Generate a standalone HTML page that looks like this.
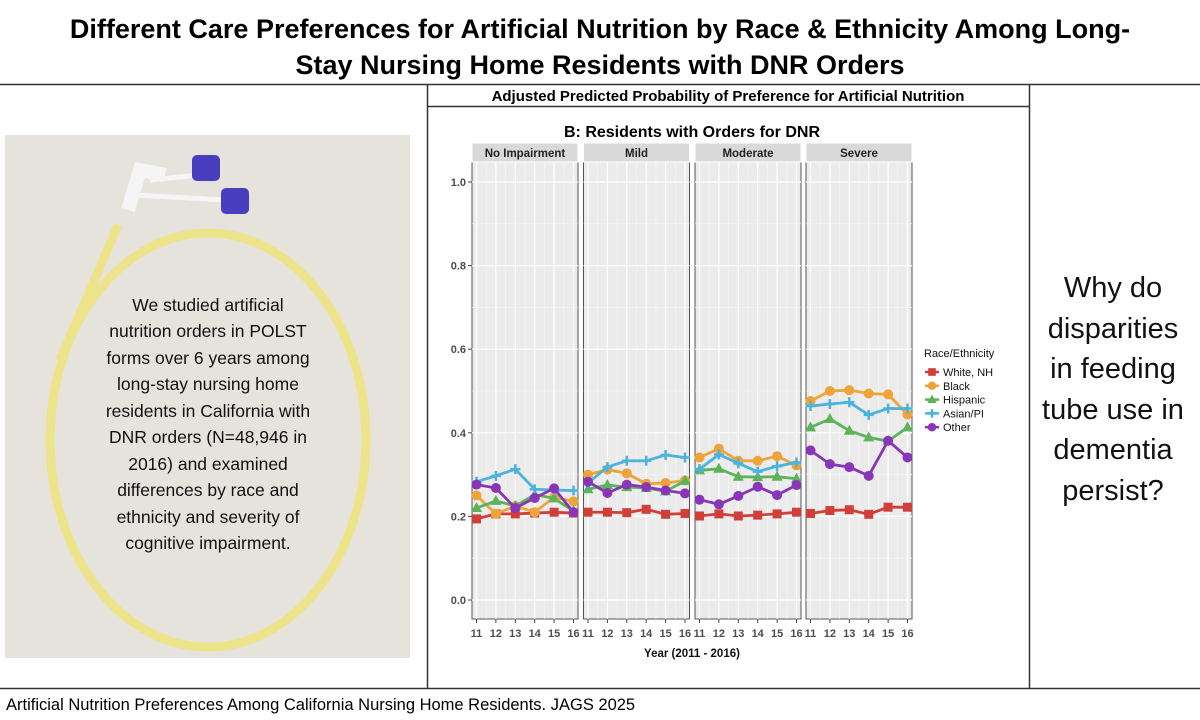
<!DOCTYPE html>
<html><head><meta charset="utf-8"><style>
body{margin:0;width:1200px;height:720px;background:#fff;overflow:hidden;font-family:"Liberation Sans",sans-serif;}
svg{display:block}
</style></head><body>
<svg id="svg" width="1200" height="720" xmlns="http://www.w3.org/2000/svg">
<rect x="0" y="0" width="1200" height="720" fill="#fff"/>
<g font-weight="bold" font-size="27" text-anchor="middle" fill="#000">
<text x="600" y="38">Different Care Preferences for Artificial Nutrition by Race &amp; Ethnicity Among Long-</text>
<text x="600" y="74">Stay Nursing Home Residents with DNR Orders</text>
</g>
<line x1="0" y1="84.5" x2="1200" y2="84.5" stroke="#333" stroke-width="1.5"/>
<line x1="0" y1="688.5" x2="1200" y2="688.5" stroke="#333" stroke-width="1.5"/>
<line x1="427.5" y1="84" x2="427.5" y2="688" stroke="#333" stroke-width="1.5"/>
<line x1="1029.5" y1="84" x2="1029.5" y2="688" stroke="#333" stroke-width="1.5"/>
<line x1="427" y1="106.5" x2="1029" y2="106.5" stroke="#333" stroke-width="1.5"/>
<text x="728" y="101" text-anchor="middle" font-size="15" font-weight="bold">Adjusted Predicted Probability of Preference for Artificial Nutrition</text>
<text x="6" y="710" font-size="16.5">Artificial Nutrition Preferences Among California Nursing Home Residents. JAGS 2025</text>
<g>
<rect x="5" y="135" width="405" height="523" fill="#e6e3dd"/>
<ellipse cx="208" cy="440" rx="158" ry="207" fill="none" stroke="#ede38a" stroke-width="9"/>
<path d="M118 225 L60 360" stroke="#ede38a" stroke-width="9" fill="none"/>
<path d="M128 210 L140 170 L165 175" stroke="#f5f5f5" stroke-width="14" fill="none"/>
<path d="M135 195 L225 200" stroke="#f5f5f5" stroke-width="5" fill="none"/>
<path d="M150 180 L200 175" stroke="#f5f5f5" stroke-width="5" fill="none"/>
<rect x="192" y="155" width="28" height="26" rx="5" fill="#4a3ec0"/>
<rect x="221" y="188" width="28" height="26" rx="5" fill="#4a3ec0"/>
<g font-size="17.5" text-anchor="middle" fill="#111">
<text x="208" y="311">We studied artificial</text>
<text x="208" y="337">nutrition orders in POLST</text>
<text x="208" y="364">forms over 6 years among</text>
<text x="208" y="390">long-stay nursing home</text>
<text x="208" y="417">residents in California with</text>
<text x="208" y="443">DNR orders (N=48,946 in</text>
<text x="208" y="470">2016) and examined</text>
<text x="208" y="496">differences by race and</text>
<text x="208" y="523">ethnicity and severity of</text>
<text x="208" y="549">cognitive impairment.</text>
</g>
</g>
<g font-size="29" text-anchor="middle" fill="#111">
<text x="1113" y="297">Why do</text>
<text x="1113" y="338">disparities</text>
<text x="1113" y="378">in feeding</text>
<text x="1113" y="419">tube use in</text>
<text x="1113" y="459">dementia</text>
<text x="1113" y="500">persist?</text>
</g>
<text x="692" y="137" text-anchor="middle" font-size="16" font-weight="bold">B: Residents with Orders for DNR</text>
<g id="chart"></g>
</svg>
<script>
const panels=["No Impairment","Mild","Moderate","Severe"];
const years=["11","12","13","14","15","16"];
const yTicks=[0,0.2,0.4,0.6,0.8,1.0];
const seriesNames=["White, NH","Black","Hispanic","Asian/PI","Other"];
const seriesColors=["#d23f38","#eda43a","#5cb35a","#4cb3dc","#8a35b8"];
const seriesShapes=["square","circle","triangle","diamond","circle"];
const white=[[0.194,0.206,0.206,0.208,0.21,0.208],[0.21,0.21,0.209,0.217,0.205,0.207],[0.201,0.206,0.201,0.203,0.206,0.21],[0.207,0.214,0.216,0.205,0.222,0.222]];
const black=[[0.25,0.206,0.225,0.21,0.246,0.236],[0.3,0.312,0.303,0.278,0.28,0.286],[0.341,0.362,0.333,0.333,0.344,0.322],[0.476,0.5,0.502,0.494,0.492,0.444]];
const hispanic=[[0.22,0.237,0.225,0.252,0.243,0.213],[0.265,0.275,0.27,0.268,0.26,0.285],[0.31,0.314,0.295,0.294,0.295,0.29],[0.413,0.433,0.405,0.389,0.38,0.413]];
const asian=[[0.283,0.297,0.313,0.265,0.263,0.262],[0.28,0.318,0.333,0.333,0.347,0.341],[0.313,0.348,0.327,0.307,0.32,0.329],[0.464,0.469,0.473,0.443,0.458,0.458]];
const other=[[0.276,0.268,0.22,0.244,0.267,0.21],[0.283,0.256,0.276,0.27,0.262,0.255],[0.24,0.229,0.249,0.271,0.251,0.275],[0.358,0.325,0.318,0.297,0.381,0.341]];
const allSeries=[white,black,hispanic,asian,other];

const NS="http://www.w3.org/2000/svg";
const chartG=document.getElementById('chart');
function mk(t,a,p){const e=document.createElementNS(NS,t);for(const k in a)e.setAttribute(k,a[k]);(p||chartG).appendChild(e);return e;}
const panelX=[472,583.5,695,806];const panelW=106;const pTop=162,pBot=619;
function yS(v){return 600-v*418;}
function xS(p,i){return panelX[p]+4.5+i*(panelW-9)/(years.length-1);}
yTicks.forEach(v=>{
 const t=mk('text',{x:466,y:yS(v)+4,'text-anchor':'end','font-size':11,'font-weight':'bold',fill:'#4d4d4d'});
 t.textContent=v.toFixed(1);
 
 
 mk('line',{x1:468,x2:472,y1:yS(v),y2:yS(v),stroke:'#444'});
});
panels.forEach((pn,p)=>{
 const x0=panelX[p];
 const bg=mk('rect',{x:x0,y:pTop,width:panelW,height:pBot-pTop,fill:'#ebebeb',stroke:'#555','stroke-width':1});
 
 
 for(let k=1;k<10;k+=2){mk('line',{x1:x0,x2:x0+panelW,y1:yS(k/10),y2:yS(k/10),stroke:'#f7f7f7','stroke-width':0.6});}
 yTicks.forEach(v=>mk('line',{x1:x0,x2:x0+panelW,y1:yS(v),y2:yS(v),stroke:'#fff','stroke-width':1.2}));
 for(let i=0;i<years.length;i++){
  mk('line',{x1:xS(p,i),x2:xS(p,i),y1:pTop,y2:pBot,stroke:'#fff','stroke-width':1.2});
  if(i<years.length-1) mk('line',{x1:(xS(p,i)+xS(p,i+1))/2,x2:(xS(p,i)+xS(p,i+1))/2,y1:pTop,y2:pBot,stroke:'#f7f7f7','stroke-width':0.6});
  mk('line',{x1:xS(p,i),x2:xS(p,i),y1:pBot,y2:pBot+4,stroke:'#444'});
  const t=mk('text',{x:xS(p,i),y:637,'text-anchor':'middle','font-size':11,'font-weight':'bold',fill:'#4d4d4d'});
  t.textContent=years[i];
  
  
 }
 const s=mk('rect',{x:x0,y:143,width:panelW,height:19,fill:'#d9d9d9',stroke:'#fff'});
 
 
 const st=mk('text',{x:x0+panelW/2,y:157,'text-anchor':'middle','font-size':11.5,'font-weight':'bold',fill:'#222'});
 st.textContent=pn;
 
 
});
function marker(shape,cx,cy,c,sc,par){
 sc=sc||1;let e;
 if(shape==='square')e=mk('rect',{x:cx-4.5*sc,y:cy-4.5*sc,width:9*sc,height:9*sc,fill:c},par);
 else if(shape==='circle')e=mk('circle',{cx:cx,cy:cy,r:5*sc,fill:c},par);
 else if(shape==='triangle')e=mk('polygon',{points:`${cx},${cy-6*sc} ${cx+5.5*sc},${cy+4*sc} ${cx-5.5*sc},${cy+4*sc}`,fill:c},par);
 else {e=mk('path',{d:`M${cx-5*sc} ${cy}H${cx+5*sc}M${cx} ${cy-5*sc}V${cy+5*sc}`,stroke:c,'stroke-width':2.5},par);}
 return e;
}
allSeries.forEach((ser,si)=>{
 ser.forEach((vals,p)=>{
  const pts=vals.map((v,i)=>xS(p,i)+','+yS(v)).join(' ');
  const l=mk('polyline',{points:pts,fill:'none',stroke:seriesColors[si],'stroke-width':2.8,'stroke-linejoin':'round'});
  
  
  vals.forEach((v,i)=>{
   const m=marker(seriesShapes[si],xS(p,i),yS(v),seriesColors[si]);
   
   
  });
 });
});
const xt=mk('text',{x:692,y:657,'text-anchor':'middle','font-size':11.5,'font-weight':'bold',fill:'#111'});
xt.textContent='Year (2011 - 2016)';


const lg=mk('g',{});


const lt=mk('text',{x:924,y:357,'font-size':11,fill:'#111'},lg);
lt.textContent='Race/Ethnicity';


seriesNames.forEach((n,i)=>{
 const y=372+i*13.8;
 mk('line',{x1:925,x2:939,y1:y,y2:y,stroke:seriesColors[i],'stroke-width':2.5},lg);
 marker(seriesShapes[i],932,y,seriesColors[i],0.85,lg);
 const t=mk('text',{x:943,y:y+4,'font-size':11,fill:'#111'},lg);
 t.textContent=n;
 
 
});
</script>
</body></html>
